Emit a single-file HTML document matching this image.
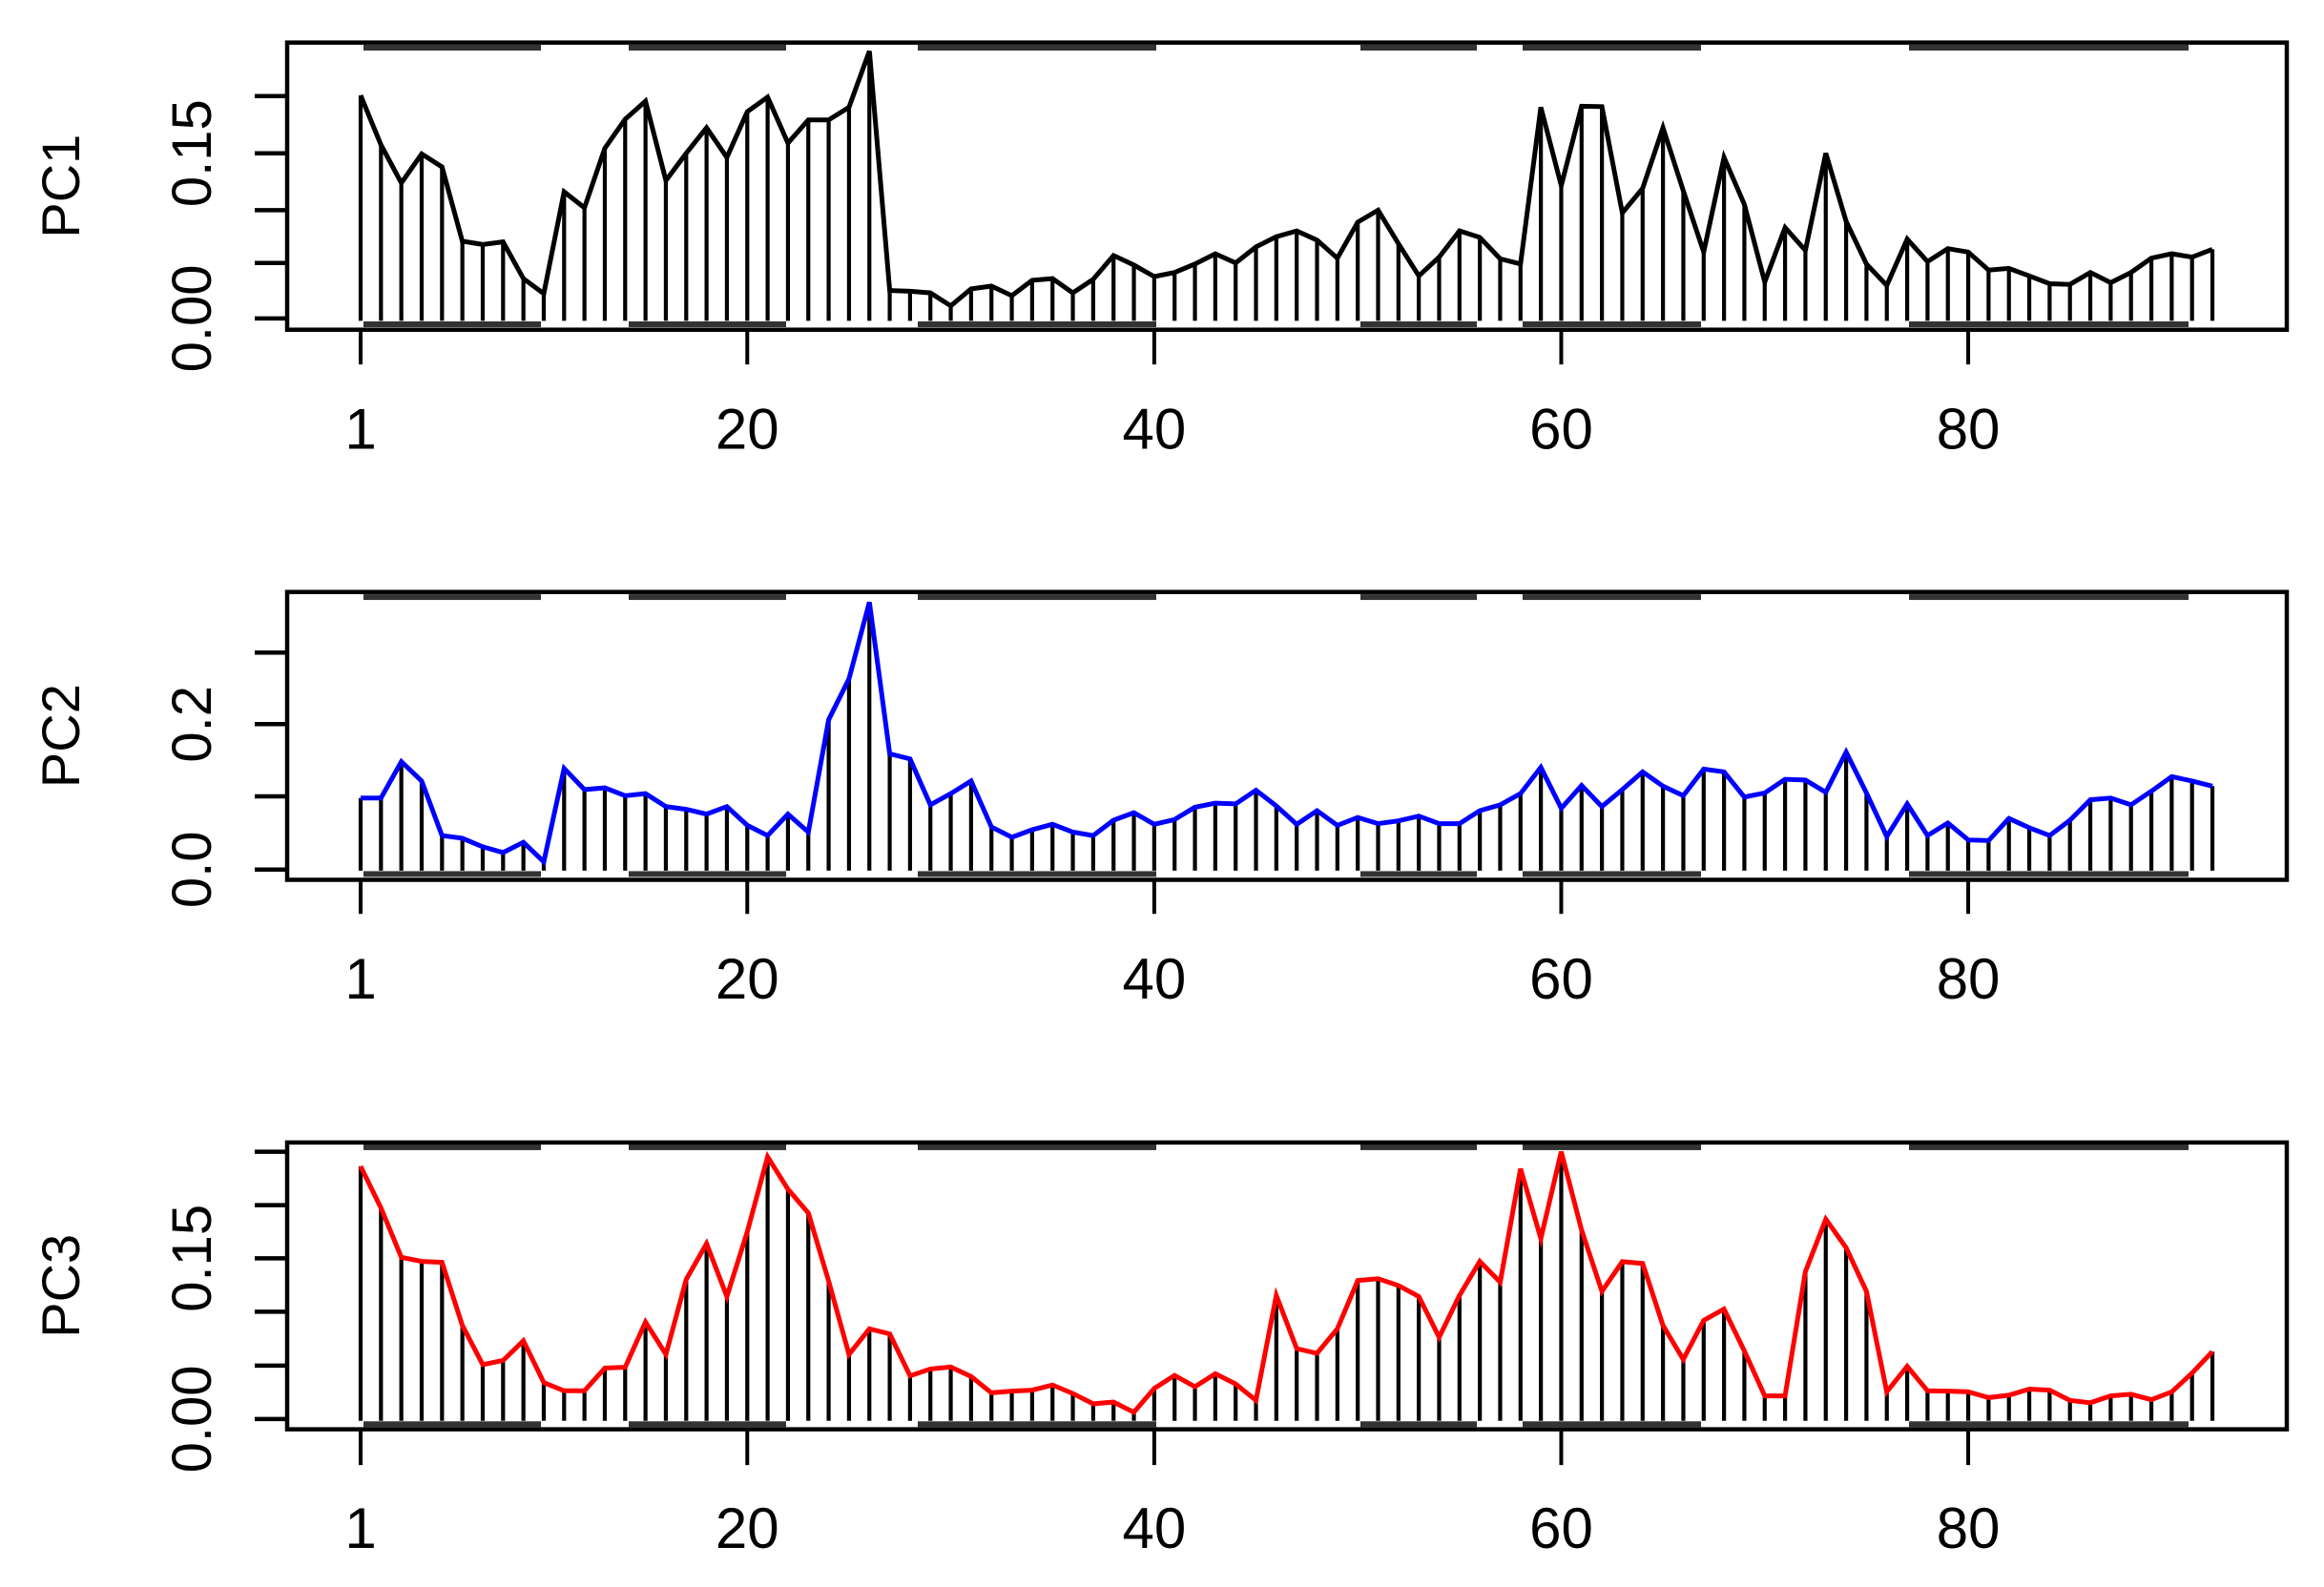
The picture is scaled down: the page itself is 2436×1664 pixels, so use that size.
<!DOCTYPE html>
<html><head><meta charset="utf-8"><style>
html,body{margin:0;padding:0;background:#fff;}
svg{display:block;}
text{font-family:"Liberation Sans",Arial,sans-serif;fill:#000;}
</style></head><body>
<svg id="s" width="2436" height="1664" xmlns="http://www.w3.org/2000/svg"></svg>
<script>
var NS="http://www.w3.org/2000/svg",S=document.getElementById("s");
function el(t,a,txt){var e=document.createElementNS(NS,t);for(var k in a)e.setAttribute(k,a[k]);if(txt)e.textContent=txt;S.appendChild(e);return e;}
function X(i){return 378+(i-1)*21.33;}
var P=[
{off:0,top:125,bot:968,barT:140,barB:952,base:942,tickEnd:1070,lab:1318,name:"PC1",col:"#000",
 ticks:[282,450,617,772,935],labs:[[935,"0.00"],[450,"0.15"]],
 d:[280,425,537,452,490,708,718,710,818,862,563,610,435,350,297,530,450,375,462,328,285,420,352,352,315,150,853,855,860,898,848,840,868,823,818,860,820,750,778,812,800,775,745,772,725,695,678,705,758,652,617,715,810,755,678,697,760,775,315,545,312,313,625,553,375,560,740,462,600,828,668,735,450,650,775,838,702,768,730,740,793,788,810,833,835,800,830,800,758,745,755,732]},
{off:560,top:170,bot:1015,barT:185,barB:998,base:988,tickEnd:1115,lab:1363,name:"PC2",col:"#0000ff",
 ticks:[348,558,770,985],labs:[[985,"0.0"],[558,"0.2"]],
 d:[775,775,668,725,885,893,918,935,905,962,688,750,745,768,762,800,808,822,800,855,885,822,875,545,425,200,645,660,795,762,725,860,890,868,852,875,885,840,818,852,838,802,790,792,752,798,852,812,855,832,850,842,828,850,850,812,795,762,685,805,738,800,750,698,740,768,690,698,772,760,720,722,758,640,760,888,792,885,848,898,900,835,862,885,840,780,775,795,755,712,725,740]},
{off:1104,top:263,bot:1105,barT:277,barB:1090,base:1080,tickEnd:1210,lab:1453,name:"PC3",col:"#ff0000",
 ticks:[290,447,603,760,918,1075],labs:[[1075,"0.00"],[603,"0.15"]],
 d:[333,455,600,612,615,800,915,903,845,968,992,992,925,923,790,885,665,560,715,525,305,400,470,670,885,810,825,948,928,922,950,998,993,990,975,1000,1030,1025,1055,985,947,980,942,972,1020,712,868,882,810,668,663,683,715,835,712,612,673,340,545,290,520,700,613,618,800,900,785,752,875,1007,1007,642,488,572,700,995,920,992,993,995,1012,1005,987,990,1020,1027,1007,1002,1018,995,940,877]}
];
var bars=[[381,567],[659,824],[962,1212],[1426,1548],[1596,1783],[2001,2294]];
P.forEach(function(p){
 var o=p.off,f=function(z){return o+z/2.8;};
 var top=f(p.top),bot=f(p.bot),base=f(p.base);
 bars.forEach(function(b){
  el("rect",{x:b[0],y:f(p.barT)-3,width:b[1]-b[0],height:6,fill:"#333"});
  el("rect",{x:b[0],y:f(p.barB)-3,width:b[1]-b[0],height:6,fill:"#333"});
 });
 var pts=[];
 p.d.forEach(function(v,k){var x=X(k+1),y=f(v);pts.push(x.toFixed(1)+","+y.toFixed(1));
  el("line",{x1:x,y1:base,x2:x,y2:y,stroke:"#000","stroke-width":4.2});});
 el("polyline",{points:pts.join(" "),fill:"none",stroke:p.col,"stroke-width":5,"stroke-linejoin":"miter"});
 el("rect",{x:301,y:top,width:2096,height:bot-top,fill:"none",stroke:"#000","stroke-width":4.5});
 p.ticks.forEach(function(t){el("line",{x1:267,x2:301,y1:f(t),y2:f(t),stroke:"#000","stroke-width":4.5});});
 p.labs.forEach(function(l){var y=f(l[0]);el("text",{x:0,y:0,"font-size":58,"text-anchor":"middle",transform:"translate(221,"+y+") rotate(-90)"},l[1]);});
 el("text",{x:0,y:0,"font-size":56,"text-anchor":"middle",transform:"translate(83,"+((top+bot)/2)+") rotate(-90)"},p.name);
 [[1,"1"],[20,"20"],[40,"40"],[60,"60"],[80,"80"]].forEach(function(t){var x=X(t[0]);
  el("line",{x1:x,x2:x,y1:bot,y2:f(p.tickEnd),stroke:"#000","stroke-width":4});
  el("text",{x:x,y:f(p.lab),"font-size":60,"text-anchor":"middle"},t[1]);});
});
</script>
</body></html>
